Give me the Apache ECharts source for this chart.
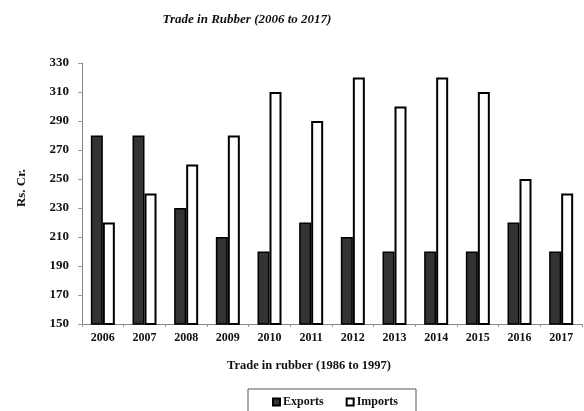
<!DOCTYPE html>
<html>
<head>
<meta charset="utf-8">
<style>
  html, body { margin: 0; padding: 0; background: #fff; }
  #chart { width: 584px; height: 411px; }
</style>
<script src="https://cdn.jsdelivr.net/npm/echarts@6/dist/echarts.min.js"></script>
</head>
<body>
<div id="chart"></div>
<script>
  // data
  var years = ['2006', '2007', '2008', '2009', '2010', '2011', '2012', '2013', '2014', '2015', '2016', '2017'];
  var exportsData = [280, 280, 230, 210, 200, 220, 210, 200, 200, 200, 220, 200];
  var importsData = [220, 240, 260, 280, 310, 290, 320, 300, 320, 310, 250, 240];

  var serif = '"Liberation Serif", "DejaVu Serif", serif';
  var myChart = echarts.init(document.getElementById('chart'));

  var option = {
    animation: false,
    backgroundColor: '#fff',
    title: {
      text: 'Trade in Rubber (2006 to 2017)',
      left: 242,
      top: 8,
      textAlign: 'center',
      textStyle: { fontFamily: serif, fontSize: 13, fontWeight: 'bold', fontStyle: 'italic', color: '#111' }
    },
    legend: {
      data: ['Exports', 'Imports'],
      left: 248,
      top: 389,
      icon: 'rect',
      itemWidth: 7,
      itemHeight: 7,
      itemGap: 22,
      padding: [7, 18, 20, 24],
      borderColor: '#555',
      borderWidth: 1,
      textStyle: { fontFamily: serif, fontSize: 12, fontWeight: 'bold', color: '#111', padding: [0, 0, 0, -2] }
    },
    grid: { left: 82, right: 2, top: 63, bottom: 87 },
    xAxis: {
      type: 'category',
      data: years,
      axisLine: { lineStyle: { color: '#888', width: 1 } },
      axisTick: { show: true, length: 3, lineStyle: { color: '#999' } },
      axisLabel: { fontFamily: serif, fontSize: 12, fontWeight: 'bold', color: '#111', margin: 8 }
    },
    yAxis: {
      type: 'value',
      min: 150,
      max: 330,
      interval: 20,
      axisLine: { show: true, lineStyle: { color: '#888', width: 1 } },
      axisTick: { show: true, length: 4, lineStyle: { color: '#999' } },
      splitLine: { show: false },
      axisLabel: { fontFamily: serif, fontSize: 13, fontWeight: 'bold', color: '#111', margin: 13 }
    },
    graphic: [
      {
        type: 'text',
        left: 227,
        top: 359,
        style: { text: 'Trade in rubber (1986 to 1997)', font: 'bold 12.5px ' + serif, fill: '#111' }
      },
      {
        type: 'text',
        x: 22,
        y: 188,
        rotation: Math.PI / 2,
        style: { text: 'Rs. Cr.', font: 'bold 13px ' + serif, fill: '#111', align: 'center', verticalAlign: 'middle' }
      }
    ],
    series: [
      {
        name: 'Exports',
        type: 'bar',
        data: exportsData,
        barWidth: 12,
        barGap: '0%',
        itemStyle: { color: '#333', borderColor: '#000', borderWidth: 1.5 }
      },
      {
        name: 'Imports',
        type: 'bar',
        data: importsData,
        barWidth: 12,
        barGap: '0%',
        itemStyle: { color: '#fff', borderColor: '#000', borderWidth: 2 }
      }
    ]
  };

  if (option && typeof option === 'object') {
    myChart.setOption(option, true);
  }
</script>
</body>
</html>
